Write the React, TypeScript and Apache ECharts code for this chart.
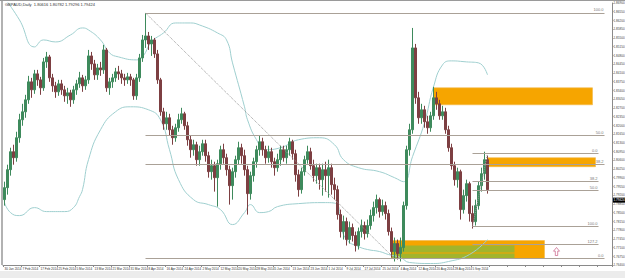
import React, { useEffect, useRef } from "react";
import * as echarts from "echarts";

// [open, close, low, high]
const ohlc: number[][] = [
  [1.7902,1.7950,1.7878,1.7974],[1.7950,1.8022,1.7922,1.8042],[1.8022,1.8094,1.7998,1.8110],[1.8094,1.8070,1.8042,1.8122],
  [1.8070,1.8150,1.8054,1.8174],[1.8150,1.8222,1.8130,1.8246],[1.8222,1.8254,1.8198,1.8286],[1.8254,1.8302,1.8230,1.8322],
  [1.8302,1.8374,1.8286,1.8398],[1.8374,1.8342,1.8310,1.8390],[1.8342,1.8406,1.8326,1.8422],[1.8406,1.8382,1.8358,1.8422],
  [1.8382,1.8350,1.8322,1.8394],[1.8350,1.8454,1.8338,1.8470],[1.8454,1.8474,1.8430,1.8494],[1.8474,1.8390,1.8374,1.8482],
  [1.8390,1.8358,1.8334,1.8406],[1.8358,1.8334,1.8310,1.8374],[1.8334,1.8366,1.8318,1.8382],[1.8366,1.8342,1.8322,1.8382],
  [1.8342,1.8318,1.8294,1.8358],[1.8318,1.8330,1.8286,1.8350],[1.8330,1.8302,1.8274,1.8342],[1.8302,1.8342,1.8286,1.8358],
  [1.8342,1.8366,1.8322,1.8382],[1.8366,1.8390,1.8350,1.8414],[1.8390,1.8358,1.8334,1.8402],[1.8358,1.8382,1.8342,1.8398],
  [1.8382,1.8478,1.8366,1.8502],[1.8478,1.8446,1.8422,1.8494],[1.8446,1.8402,1.8382,1.8462],[1.8402,1.8430,1.8382,1.8446],
  [1.8430,1.8422,1.8398,1.8454],[1.8422,1.8502,1.8406,1.8522],[1.8502,1.8350,1.8334,1.8510],[1.8350,1.8374,1.8322,1.8390],
  [1.8374,1.8390,1.8350,1.8406],[1.8390,1.8414,1.8374,1.8430],[1.8414,1.8406,1.8382,1.8438],[1.8406,1.8390,1.8366,1.8422],
  [1.8390,1.8382,1.8358,1.8406],[1.8382,1.8394,1.8366,1.8410],[1.8394,1.8382,1.8358,1.8406],[1.8382,1.8318,1.8302,1.8390],
  [1.8318,1.8390,1.8302,1.8406],[1.8390,1.8470,1.8374,1.8486],[1.8470,1.8542,1.8454,1.8562],[1.8542,1.8558,1.8510,1.8650],
  [1.8558,1.8526,1.8502,1.8574],[1.8526,1.8542,1.8478,1.8558],[1.8542,1.8486,1.8470,1.8550],[1.8486,1.8382,1.8366,1.8502],
  [1.8382,1.8254,1.8238,1.8390],[1.8254,1.8206,1.8182,1.8270],[1.8206,1.8230,1.8182,1.8254],[1.8230,1.8182,1.8158,1.8246],
  [1.8182,1.8150,1.8122,1.8198],[1.8150,1.8190,1.8134,1.8206],[1.8190,1.8222,1.8174,1.8246],[1.8222,1.8246,1.8206,1.8270],
  [1.8246,1.8198,1.8182,1.8254],[1.8198,1.8142,1.8118,1.8214],[1.8142,1.8102,1.8070,1.8158],[1.8102,1.8122,1.8078,1.8142],
  [1.8122,1.8062,1.8038,1.8134],[1.8062,1.8094,1.8038,1.8118],[1.8094,1.8126,1.8078,1.8142],[1.8126,1.8078,1.8054,1.8142],
  [1.8078,1.8014,1.7990,1.8094],[1.8014,1.8038,1.7982,1.8062],[1.8038,1.7990,1.7934,1.8054],[1.7990,1.8046,1.7874,1.8062],
  [1.8046,1.8102,1.8022,1.8118],[1.8102,1.8070,1.8046,1.8126],[1.8070,1.8022,1.7998,1.8086],[1.8022,1.7958,1.7882,1.8038],
  [1.7958,1.8014,1.7902,1.8030],[1.8014,1.8062,1.7990,1.8078],[1.8062,1.8110,1.8042,1.8134],[1.8110,1.8078,1.8046,1.8126],
  [1.8078,1.8022,1.7998,1.8102],[1.8022,1.7926,1.7842,1.8038],[1.7926,1.7998,1.7902,1.8014],[1.7998,1.8054,1.7974,1.8070],
  [1.8054,1.8102,1.8030,1.8118],[1.8102,1.8134,1.8078,1.8158],[1.8134,1.8102,1.8078,1.8150],[1.8102,1.8070,1.8046,1.8118],
  [1.8070,1.8094,1.8050,1.8118],[1.8094,1.8054,1.8030,1.8110],[1.8054,1.8030,1.7998,1.8070],[1.8030,1.8062,1.8014,1.8086],
  [1.8062,1.8102,1.8038,1.8118],[1.8102,1.8070,1.8054,1.8118],[1.8070,1.8102,1.8046,1.8118],[1.8102,1.8134,1.8078,1.8150],
  [1.8134,1.8086,1.8062,1.8142],[1.8086,1.8002,1.7974,1.8102],[1.8002,1.7942,1.7914,1.8022],[1.7942,1.8014,1.7926,1.8030],
  [1.8014,1.8062,1.7998,1.8078],[1.8062,1.8094,1.8046,1.8118],[1.8094,1.8038,1.8022,1.8110],[1.8038,1.7998,1.7974,1.8062],
  [1.7998,1.8030,1.7966,1.8046],[1.8030,1.7982,1.7942,1.8046],[1.7982,1.8022,1.7918,1.8046],[1.8022,1.7998,1.7934,1.8054],
  [1.7998,1.8030,1.7910,1.8062],[1.8030,1.7962,1.7922,1.8046],[1.7962,1.7942,1.7902,1.7990],[1.7942,1.7842,1.7822,1.7958],
  [1.7842,1.7774,1.7750,1.7862],[1.7774,1.7814,1.7742,1.7838],[1.7814,1.7742,1.7718,1.7830],[1.7742,1.7790,1.7726,1.7814],
  [1.7790,1.7758,1.7734,1.7806],[1.7758,1.7718,1.7694,1.7774],[1.7718,1.7774,1.7702,1.7790],[1.7774,1.7798,1.7750,1.7822],
  [1.7798,1.7766,1.7742,1.7814],[1.7766,1.7798,1.7750,1.7822],[1.7798,1.7838,1.7782,1.7862],[1.7838,1.7870,1.7814,1.7894],
  [1.7870,1.7902,1.7846,1.7922],[1.7902,1.7854,1.7830,1.7910],[1.7854,1.7878,1.7838,1.7902],[1.7878,1.7846,1.7822,1.7894],
  [1.7846,1.7774,1.7758,1.7862],[1.7774,1.7694,1.7670,1.7790],[1.7694,1.7726,1.7654,1.7750],[1.7726,1.7686,1.7662,1.7742],
  [1.7686,1.7710,1.7654,1.7750],[1.7710,1.7878,1.7694,1.7894],[1.7878,1.8102,1.7862,1.8118],[1.8102,1.8182,1.8078,1.8206],
  [1.8182,1.8510,1.8166,1.8590],[1.8510,1.8310,1.8286,1.8526],[1.8310,1.8230,1.8206,1.8334],[1.8230,1.8262,1.8206,1.8286],
  [1.8262,1.8214,1.8190,1.8278],[1.8214,1.8190,1.8166,1.8238],[1.8190,1.8238,1.8174,1.8254],[1.8238,1.8310,1.8222,1.8354],
  [1.8310,1.8286,1.8262,1.8334],[1.8286,1.8238,1.8222,1.8302],[1.8238,1.8254,1.8222,1.8278],[1.8254,1.8182,1.8166,1.8270],
  [1.8182,1.8110,1.8094,1.8198],[1.8110,1.8038,1.8022,1.8126],[1.8038,1.7982,1.7958,1.8054],[1.7982,1.8014,1.7950,1.8030],
  [1.8014,1.7862,1.7822,1.8022],[1.7862,1.7918,1.7846,1.7942],[1.7918,1.7966,1.7894,1.7982],[1.7966,1.7846,1.7814,1.7974],
  [1.7846,1.7814,1.7786,1.7878],[1.7814,1.7878,1.7798,1.7902],[1.7878,1.7958,1.7862,1.7974],[1.7958,1.8006,1.7934,1.8030],
  [1.8006,1.8062,1.7982,1.8094],[1.8062,1.7942,1.7926,1.8078],
];

// Bollinger bands: [bar index, price]
const upperBand: number[][] = [
  [1,1.8694],[5,1.8622],[10,1.8514],[13,1.8542],[17,1.8534],[22,1.8562],[26,1.8590],[28,1.8582],[32,1.8542],[35,1.8490],
  [38,1.8474],[44,1.8462],[46,1.8474],[49,1.8534],[53,1.8570],[57,1.8610],[62,1.8610],[65,1.8602],[71,1.8570],[74,1.8542],
  [76,1.8450],[80,1.8274],[81,1.8222],[84,1.8142],[87,1.8102],[92,1.8110],[98,1.8142],[105,1.8150],[110,1.8122],[113,1.8062],
  [118,1.8030],[125,1.8014],[130,1.7990],[133,1.7974],[136,1.8074],[140,1.8210],[143,1.8354],[146,1.8442],[149,1.8458],
  [154,1.8454],[158,1.8450],[161,1.8402],
];
const lowerBand: number[][] = [
  [0,1.7890],[2,1.7850],[5,1.7838],[10,1.7870],[14,1.7854],[20,1.7854],[23,1.7870],[25,1.7914],[26,1.7942],[28,1.8062],
  [32,1.8182],[37,1.8254],[42,1.8274],[48,1.8262],[52,1.8222],[55,1.8102],[58,1.7982],[63,1.7902],[68,1.7882],[72,1.7862],
  [76,1.7802],[80,1.7850],[82,1.7882],[85,1.7850],[88,1.7854],[91,1.7874],[98,1.7886],[107,1.7890],[111,1.7882],[112,1.7810],
  [114,1.7742],[118,1.7714],[121,1.7702],[125,1.7694],[128,1.7682],[132,1.7670],[135,1.7650],[142,1.7646],[148,1.7654],
  [155,1.7682],[161,1.7742],
];

// Fibonacci retracements
const fib1Prices = [1.8650, 1.8158, 1.8042, 1.7666];
const fib1Labels = ["100.0", "50.0", "38.2", "0.0"];
const fib1Span = [47, 200];
const fib2Prices = [1.8086, 1.7974, 1.7938, 1.7794, 1.7722];
const fib2Labels = ["0.0", "38.2", "50.0", "100.0", "127.2"];
const fib2Span = [156, 198];
const trendLines = [
  [[47, 1.8650], [130, 1.7666]],
  [[156, 1.7794], [161, 1.8086]],
];

// zones: [fromIndex, toIndex, topPrice, bottomPrice]
const orangeZones = [
  [143, 196, 1.8350, 1.8282],
  [161, 197, 1.8070, 1.8034],
  [129, 180, 1.7738, 1.7666],
];
const greenZones = [
  [129, 170, 1.7718, 1.7690],
  [129, 170, 1.7686, 1.7666],
];
const notes: (number | string)[][] = [
  [165, 1.8314, "daily sz"],
  [172, 1.8050, "take profit"],
  [162, 1.7706, "4hr dz"],
  [162, 1.7672, "4hr dz"],
  [175, 1.7698, "daily dz"],
];
const waveLabels: (number | string)[][] = [
  [144, 1.8370, "a"],
  [156, 1.7768, "b"],
  [160, 1.8112, "c"],
];
const arrowPoint = [[184, 1.7694]];
const lastPrice = 1.79424;
const tabNames = [
  "EURUSD,M5", "GBPUSD,Daily", "USDCHF,Daily", "USDJPY,H4", "AUDUSD,Daily", "USDCAD,Daily", "NZDUSD,H4",
  "EURJPY,Daily", "EURGBP,Daily", "GBPJPY,Daily", "EURAUD,Daily", "GBPCHF,Daily", "AUDJPY,Daily",
  "CADJPY,Daily", "GBPAUD,Daily",
];
const titleText = "GBPAUD,Daily  1.80616 1.80782 1.79296 1.79424";
const startDate = [2014, 0, 30];
const totalSlots = 203;

const MONTHS = ["Jan","Feb","Mar","Apr","May","Jun","Jul","Aug","Sep","Oct","Nov","Dec"];
function buildDates(): string[] {
  const out: string[] = [];
  const d = new Date(Date.UTC(startDate[0], startDate[1], startDate[2]));
  while (out.length < totalSlots) {
    const wd = d.getUTCDay();
    if (wd !== 0 && wd !== 6) out.push(`${d.getUTCDate()} ${MONTHS[d.getUTCMonth()]} ${d.getUTCFullYear()}`);
    d.setUTCDate(d.getUTCDate() + 1);
  }
  return out;
}

export default function App() {
  const ref = useRef<HTMLDivElement>(null);
  useEffect(() => {
    if (!ref.current) return;
    const chart = echarts.init(ref.current, null, { renderer: "svg" });
    const dates = buildDates();
    const fibColor = "#aaa197";
    const markLines: any[] = [];
    fib1Prices.forEach((p, k) => {
      markLines.push([
        { coord: [fib1Span[0], p], name: fib1Labels[k] },
        { coord: [fib1Span[1], p] },
      ]);
    });
    fib2Prices.forEach((p, k) => {
      markLines.push([
        { coord: [fib2Span[0], p], name: fib2Labels[k] },
        { coord: [fib2Span[1], p] },
      ]);
    });
    trendLines.forEach((t) => {
      markLines.push([
        { coord: t[0], lineStyle: { type: "dotted", color: "#9a9a9a", width: 1 }, label: { show: false } },
        { coord: t[1] },
      ]);
    });
    const areas: any[] = [];
    orangeZones.forEach((z) => {
      areas.push([
        { coord: [z[0], z[2]], itemStyle: { color: "#f6a500", borderColor: "#f2b84a", borderWidth: 0.6 } },
        { coord: [z[1], z[3]] },
      ]);
    });
    greenZones.forEach((z) => {
      areas.push([
        { coord: [z[0], z[2]], itemStyle: { color: "#a2b42c" } },
        { coord: [z[1], z[3]] },
      ]);
    });

    const option: any = {
      animation: false,
      backgroundColor: "#ffffff",
      grid: { left: 3, right: 13, top: 3, bottom: 13, containLabel: false, outerBoundsMode: "none" },
      xAxis: {
        type: "category",
        data: dates,
        boundaryGap: true,
        axisLine: { show: true, lineStyle: { color: "#8a8a8a", width: 1 } },
        axisTick: { show: true, interval: 5, length: 2, lineStyle: { color: "#8a8a8a" } },
        axisLabel: {
          interval: 5, fontSize: 3.1, color: "#333", margin: 2, align: "left", hideOverlap: false,
          fontFamily: "Liberation Sans",
          formatter: (v: string, idx: number) => (idx < ohlc.length ? v : ""),
        },
        splitLine: { show: false },
      },
      yAxis: {
        type: "value",
        position: "right",
        min: 1.764,
        max: 1.869,
        interval: 0.0035,
        scale: true,
        axisLine: { show: true, lineStyle: { color: "#8a8a8a", width: 1 } },
        axisTick: { show: true, length: 1.5, lineStyle: { color: "#8a8a8a" } },
        axisLabel: {
          fontSize: 3.1, color: "#444", margin: 1.5, fontFamily: "Liberation Sans", hideOverlap: false,
          formatter: (v: number) => v.toFixed(5),
        },
        splitLine: { show: false },
      },
      series: [
        {
          name: "zones",
          type: "line",
          data: upperBand,
          z: 1,
          smooth: true,
          showSymbol: false,
          lineStyle: { color: "#9fcfcf", width: 1 },
          markArea: { silent: true, data: areas, label: { show: false } },
        },
        {
          name: "lower",
          type: "line",
          data: lowerBand,
          z: 2,
          smooth: true,
          showSymbol: false,
          lineStyle: { color: "#9fcfcf", width: 1 },
          markLine: {
            silent: true,
            symbol: "none",
            lineStyle: { color: fibColor, width: 1, type: "solid" },
            label: {
              show: true, position: "insideEndTop", formatter: "{b}", fontSize: 4, color: "#777",
              distance: 1, fontFamily: "Liberation Sans",
            },
            data: markLines,
          },
        },
        {
          name: "price",
          type: "candlestick",
          data: ohlc,
          z: 3,
          barWidth: "60%",
          itemStyle: {
            color: "#3e8a5c",
            color0: "#7d3f42",
            borderColor: "#3e8a5c",
            borderColor0: "#7d3f42",
            borderWidth: 1,
          },
          markLine: {
            silent: true,
            symbol: "none",
            lineStyle: { color: "rgba(0,0,0,0)", width: 0 },
            label: {
              show: true, position: "end", distance: 1, formatter: lastPrice.toFixed(5),
              backgroundColor: "#000000", color: "#ffffff", fontSize: 3.1, padding: [1, 0.5, 1, 0.5],
              fontFamily: "Liberation Sans",
            },
            data: [{ yAxis: lastPrice }],
          },
        },
        {
          name: "notes",
          type: "scatter",
          data: notes,
          z: 4,
          symbolSize: 1,
          itemStyle: { opacity: 0 },
          label: {
            show: true, position: "inside", formatter: (p: any) => p.data[2],
            fontSize: 6, fontWeight: "bold", color: "#111", fontFamily: "Liberation Sans",
          },
        },
        {
          name: "waves",
          type: "scatter",
          data: waveLabels,
          z: 4,
          symbolSize: 1,
          itemStyle: { opacity: 0 },
          label: {
            show: true, position: "inside", formatter: (p: any) => p.data[2],
            fontSize: 5, fontWeight: "bold", color: "#1f2f5a", fontFamily: "Liberation Sans",
          },
        },
        {
          name: "arrow",
          type: "scatter",
          data: arrowPoint,
          z: 4,
          symbol: "path://M5,0 L10,5 L7,5 L7,11 L3,11 L3,5 L0,5 Z",
          symbolSize: [6, 8],
          itemStyle: { color: "rgba(255,255,255,0)", borderColor: "#c4507a", borderWidth: 0.8 },
        },
      ],
      graphic: [
        { type: "rect", shape: { x: 0, y: 0, width: 625, height: 1 }, style: { fill: "#9a9a9a" }, z: 10 },
        { type: "rect", shape: { x: 1.5, y: 1, width: 1, height: 264 }, style: { fill: "#666" }, z: 10 },
        {
          type: "text", x: 5, y: 2, z: 10,
          style: { text: titleText, fontSize: 4, fill: "#333", fontFamily: "Liberation Sans" },
        },
        { type: "rect", shape: { x: 0, y: 271, width: 625, height: 7 }, style: { fill: "#ececec" }, z: 10 },
        ...tabNames.map((t, k) => ({
          type: "group", z: 11,
          children: [
            {
              type: "rect",
              shape: { x: k * 25, y: k === tabNames.length - 1 ? 271 : 272, width: 25, height: 6 },
              style: { fill: k === tabNames.length - 1 ? "#ffffff" : "#ececec", stroke: "#a8a8a8", lineWidth: 0.5 },
            },
            {
              type: "text", x: k * 25 + 2, y: 273.5,
              style: { text: t, fontSize: 3.6, fill: "#333", fontFamily: "Liberation Sans" },
            },
          ],
        })),
      ],
    };
    chart.setOption(option);
    return () => chart.dispose();
  }, []);
  return (
    <div
      ref={ref}
      style={{ position: "fixed", left: 0, top: 0, width: 625, height: 278, background: "#fff" }}
    />
  );
}
